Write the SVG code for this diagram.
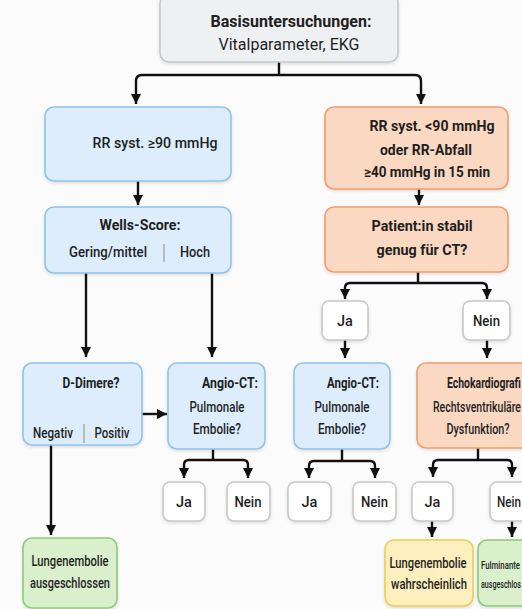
<svg xmlns="http://www.w3.org/2000/svg" width="522" height="609" viewBox="0 0 522 609">
<style>
text{font-family:Roboto,"Liberation Sans",sans-serif;fill:#1f1f1f;font-weight:500;font-size:14.5px}
.c{text-anchor:middle}
.b{font-weight:700}
.box{stroke-width:1.6;filter:url(#sh)}
.gray{fill:#eff0f2;stroke:#c5c8cd}
.blue{fill:#deedfb;stroke:#8ec3ec}
.orange{fill:#fbd8c2;stroke:#ee9d6e}
.green{fill:#daf0cd;stroke:#8ccb74}
.yellow{fill:#fdf0be;stroke:#efcc55}
.white{fill:#ffffff;stroke:#c8c8c8}
.conn path{fill:none;stroke:#111;stroke-width:2.4}
.sep{stroke:#999;stroke-width:1.2}
</style>
<defs>
<marker id="ah" markerUnits="userSpaceOnUse" markerWidth="11" markerHeight="11" refX="10" refY="5" orient="auto"><path d="M0,0 L10,5 L0,10 z" fill="#111"/></marker>
<filter id="sh" x="-10%" y="-10%" width="120%" height="130%"><feDropShadow dx="0" dy="1.5" stdDeviation="1.5" flood-color="#000" flood-opacity="0.12"/></filter>
</defs>
<rect width="522" height="609" fill="#fbfbfb"/>

<g id="connectors" class="conn">
<path d="M279,62 V75"/>
<path d="M279,75 H142 Q136,75 136,81 V104" marker-end="url(#ah)"/>
<path d="M279,75 H415 Q421,75 421,81 V104" marker-end="url(#ah)"/>
<path d="M138,181 V205" marker-end="url(#ah)"/>
<path d="M86,273 V357" marker-end="url(#ah)"/>
<path d="M212,273 V357" marker-end="url(#ah)"/>
<path d="M142,414 H167" marker-end="url(#ah)"/>
<path d="M213,449 V460"/>
<path d="M213,460 H189 Q184,460 184,465 V478" marker-end="url(#ah)"/>
<path d="M213,460 H243 Q248,460 248,465 V478" marker-end="url(#ah)"/>
<path d="M51,445 V535" marker-end="url(#ah)"/>
<path d="M419,189 V205" marker-end="url(#ah)"/>
<path d="M418,272 V283"/>
<path d="M418,283 H350 Q345,283 345,288 V299" marker-end="url(#ah)"/>
<path d="M418,283 H482 Q487,283 487,288 V299" marker-end="url(#ah)"/>
<path d="M345,340 V358" marker-end="url(#ah)"/>
<path d="M487,340 V358" marker-end="url(#ah)"/>
<path d="M342,449 V461"/>
<path d="M342,461 H314 Q309,461 309,466 V478" marker-end="url(#ah)"/>
<path d="M342,461 H370 Q375,461 375,466 V478" marker-end="url(#ah)"/>
<path d="M478,448 V460"/>
<path d="M478,460 H438 Q433,460 433,465 V477" marker-end="url(#ah)"/>
<path d="M478,460 H507 Q512,460 512,465 V477" marker-end="url(#ah)"/>
<path d="M432,521 V537" marker-end="url(#ah)"/>
<path d="M512,521 V537" marker-end="url(#ah)"/>
</g>

<g id="basis">
<rect class="box gray" x="160" y="-6" width="238" height="68" rx="9"/>
<text class="c b" x="291" y="27" style="font-size:16px">Basisuntersuchungen:</text>
<text class="c" x="289" y="50" style="font-size:16px;font-weight:400">Vitalparameter, EKG</text>
</g>

<g id="rr-normal">
<rect class="box blue" x="45" y="107" width="186" height="74" rx="9"/>
<text class="c" x="155" y="148" textLength="125" lengthAdjust="spacingAndGlyphs">RR syst. ≥90 mmHg</text>
</g>

<g id="wells">
<rect class="box blue" x="45" y="207" width="186" height="66" rx="9"/>
<text class="c b" x="140" y="230" textLength="81" lengthAdjust="spacingAndGlyphs">Wells-Score:</text>
<text class="c" x="108" y="257" textLength="78" lengthAdjust="spacingAndGlyphs">Gering/mittel</text>
<line class="sep" x1="164" y1="244" x2="164" y2="262"/>
<text class="c" x="195" y="257" textLength="30" lengthAdjust="spacingAndGlyphs">Hoch</text>
</g>

<g id="ddimere">
<rect class="box blue" x="23" y="363" width="119" height="82" rx="9"/>
<text class="c b" x="91" y="388" textLength="57" lengthAdjust="spacingAndGlyphs">D-Dimere?</text>
<text class="c" x="53" y="438" textLength="40" lengthAdjust="spacingAndGlyphs">Negativ</text>
<line class="sep" x1="84" y1="424" x2="84" y2="443"/>
<text class="c" x="112" y="438" textLength="35" lengthAdjust="spacingAndGlyphs">Positiv</text>
</g>

<g id="angio-left">
<rect class="box blue" x="168" y="363" width="97" height="86" rx="9"/>
<text class="c b" x="230" y="388" textLength="56" lengthAdjust="spacingAndGlyphs">Angio-CT:</text>
<text class="c" x="217" y="412" textLength="55" lengthAdjust="spacingAndGlyphs">Pulmonale</text>
<text class="c" x="217" y="434" textLength="48" lengthAdjust="spacingAndGlyphs">Embolie?</text>
</g>

<g id="ja-left">
<rect class="box white" x="163" y="482" width="42" height="39" rx="7"/>
<text class="c" x="184" y="507">Ja</text>
</g>
<g id="nein-left">
<rect class="box white" x="227" y="482" width="43" height="39" rx="7"/>
<text class="c" x="248" y="507" textLength="27" lengthAdjust="spacingAndGlyphs">Nein</text>
</g>

<g id="le-ausgeschlossen">
<rect class="box green" x="23" y="538" width="94" height="70" rx="9"/>
<text class="c" x="70" y="566" textLength="77" lengthAdjust="spacingAndGlyphs">Lungenembolie</text>
<text class="c" x="70" y="588" textLength="80" lengthAdjust="spacingAndGlyphs">ausgeschlossen</text>
</g>

<g id="rr-low">
<rect class="box orange" x="325" y="107" width="183" height="82" rx="9"/>
<text class="c b" x="432" y="131" textLength="125" lengthAdjust="spacingAndGlyphs">RR syst. &lt;90 mmHg</text>
<text class="c b" x="426" y="155" textLength="92" lengthAdjust="spacingAndGlyphs">oder RR-Abfall</text>
<text class="c b" x="427" y="177" textLength="126" lengthAdjust="spacingAndGlyphs">≥40 mmHg in 15 min</text>
</g>

<g id="stabil">
<rect class="box orange" x="325" y="207" width="183" height="65" rx="9"/>
<text class="c b" x="422" y="231" style="font-size:15px" textLength="101" lengthAdjust="spacingAndGlyphs">Patient:in stabil</text>
<text class="c b" x="422" y="255" style="font-size:15px" textLength="91" lengthAdjust="spacingAndGlyphs">genug für CT?</text>
</g>

<g id="ja-stabil">
<rect class="box white" x="322" y="301" width="46" height="39" rx="7"/>
<text class="c" x="345" y="326">Ja</text>
</g>
<g id="nein-stabil">
<rect class="box white" x="463" y="301" width="47" height="39" rx="7"/>
<text class="c" x="486.5" y="326" textLength="27" lengthAdjust="spacingAndGlyphs">Nein</text>
</g>

<g id="angio-right">
<rect class="box blue" x="294" y="363" width="96" height="86" rx="9"/>
<text class="c b" x="353" y="388" textLength="52" lengthAdjust="spacingAndGlyphs">Angio-CT:</text>
<text class="c" x="342" y="412" textLength="55" lengthAdjust="spacingAndGlyphs">Pulmonale</text>
<text class="c" x="342" y="434" textLength="48" lengthAdjust="spacingAndGlyphs">Embolie?</text>
</g>

<g id="ja-right">
<rect class="box white" x="288" y="482" width="43" height="39" rx="7"/>
<text class="c" x="309.5" y="507">Ja</text>
</g>
<g id="nein-right">
<rect class="box white" x="353" y="482" width="43" height="39" rx="7"/>
<text class="c" x="374.5" y="507" textLength="27" lengthAdjust="spacingAndGlyphs">Nein</text>
</g>

<g id="echo">
<rect class="box orange" x="417" y="363" width="122" height="85" rx="9"/>
<text class="b" x="447" y="388" textLength="74" lengthAdjust="spacingAndGlyphs">Echokardiografi</text>
<text x="433" y="412" textLength="88" lengthAdjust="spacingAndGlyphs">Rechtsventrikuläre</text>
<text class="c" x="478" y="434" textLength="63" lengthAdjust="spacingAndGlyphs">Dysfunktion?</text>
</g>

<g id="ja-echo">
<rect class="box white" x="412" y="482" width="41" height="39" rx="7"/>
<text class="c" x="432.5" y="507">Ja</text>
</g>
<g id="nein-echo">
<rect class="box white" x="490" y="482" width="43" height="39" rx="7"/>
<text x="497" y="507" textLength="24" lengthAdjust="spacingAndGlyphs">Nein</text>
</g>

<g id="le-wahrscheinlich">
<rect class="box yellow" x="385" y="540" width="88" height="66" rx="9"/>
<text class="c" x="428" y="568" textLength="77" lengthAdjust="spacingAndGlyphs">Lungenembolie</text>
<text class="c" x="429" y="589" textLength="76" lengthAdjust="spacingAndGlyphs">wahrscheinlich</text>
</g>

<g id="fulminante">
<rect class="box green" x="478" y="540" width="70" height="66" rx="9"/>
<text x="481" y="569" style="font-size:11px" textLength="39" lengthAdjust="spacingAndGlyphs">Fulminante</text>
<text x="481" y="588" style="font-size:11px" textLength="40" lengthAdjust="spacingAndGlyphs">ausgeschlos</text>
</g>
</svg>
